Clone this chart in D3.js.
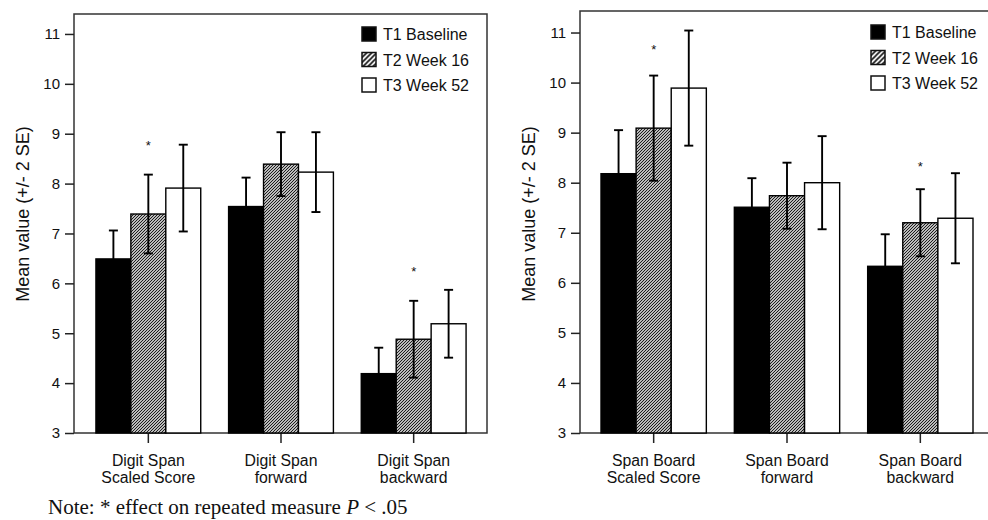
<!DOCTYPE html>
<html>
<head>
<meta charset="utf-8">
<script src="https://cdnjs.cloudflare.com/ajax/libs/d3/7.8.5/d3.min.js"></script>
<style>
  body { margin: 0; background: #fff; }
  svg text { font-family: "Liberation Sans", Arial, sans-serif; fill: #111; }
  .note { font-family: "Liberation Serif", "Times New Roman", serif; }
</style>
</head>
<body>
<div id="chart"></div>
<script>
// series + shared ticks
var series = ["T1 Baseline", "T2 Week 16", "T3 Week 52"];
var yTicks = [3, 4, 5, 6, 7, 8, 9, 10, 11];

// left panel - digit span (means and 2 SE, one row per series)
var digitCategories = ["Digit Span|Scaled Score", "Digit Span|forward", "Digit Span|backward"];
var digitMeans = [
  [6.49, 7.54, 4.19],
  [7.39, 8.39, 4.88],
  [7.91, 8.23, 5.19]
];
var digitErr = [
  [0.57, 0.58, 0.52],
  [0.79, 0.64, 0.77],
  [0.87, 0.80, 0.68]
];
var digitStars = [[0, 8.82], [2, 6.29]];

// right panel - span board
var boardCategories = ["Span Board|Scaled Score", "Span Board|forward", "Span Board|backward"];
var boardMeans = [
  [8.18, 7.51, 6.33],
  [9.09, 7.74, 7.20],
  [9.89, 8.00, 7.29]
];
var boardErr = [
  [0.87, 0.58, 0.64],
  [1.05, 0.66, 0.67],
  [1.15, 0.93, 0.90]
];
var boardStars = [[0, 10.72], [2, 8.39]];

var svgWidth = 988;
var svgHeight = 520;
var baseY = 433;

var svg = d3.select("#chart")
  .append("svg")
  .attr("width", svgWidth)
  .attr("height", svgHeight);

// hatch patterns (fine one for bars, coarser one for legend keys)
var defs = svg.append("defs");
defs.append("pattern")
  .attr("id", "hatch")
  .attr("patternUnits", "userSpaceOnUse")
  .attr("width", 3)
  .attr("height", 3)
  .call(p => p.append("rect").attr("width", 3).attr("height", 3).attr("fill", "#fff"))
  .append("path")
  .attr("d", "M-1,1 l2,-2 M0,3 l3,-3 M2,4 l2,-2")
  .attr("stroke", "#111")
  .attr("stroke-width", 1.1);

defs.append("pattern")
  .attr("id", "hatchKey")
  .attr("patternUnits", "userSpaceOnUse")
  .attr("width", 5)
  .attr("height", 5)
  .call(p => p.append("rect").attr("width", 5).attr("height", 5).attr("fill", "#fff"))
  .append("path")
  .attr("d", "M-1,1 l2,-2 M0,5 l5,-5 M4,6 l2,-2")
  .attr("stroke", "#111")
  .attr("stroke-width", 1.6);

var fills = ["#000", "url(#hatch)", "#fff"];
var keyFills = ["#000", "url(#hatchKey)", "#fff"];

function drawPanel(cfg) {
  var g = svg.append("g");

  var x0 = d3.scaleBand()
    .domain(cfg.categories)
    .range(cfg.xRange)
    .paddingInner(0.21)
    .paddingOuter(0.105);

  var x1 = d3.scaleBand()
    .domain(series)
    .range([0, x0.bandwidth()]);

  var y = d3.scaleLinear()
    .domain([3, cfg.yMax])
    .range([baseY, cfg.boxTop]);

  // frame
  g.append("rect")
    .attr("x", cfg.boxLeft)
    .attr("y", cfg.boxTop)
    .attr("width", cfg.boxRight - cfg.boxLeft)
    .attr("height", baseY - cfg.boxTop)
    .attr("fill", "none")
    .attr("stroke", "#333")
    .attr("stroke-width", 1.5);

  // y axis
  var yAxis = g.append("g")
    .attr("transform", `translate(${cfg.boxLeft}, 0)`)
    .call(d3.axisLeft(y).tickValues(yTicks).tickSize(9).tickPadding(5));
  yAxis.select(".domain").remove();
  yAxis.selectAll("line").attr("stroke", "#222").attr("stroke-width", 1.5);
  yAxis.selectAll("text").attr("font-size", 15).attr("fill", "#111");

  // x axis ticks only, labels drawn below as two lines
  var xAxis = g.append("g")
    .attr("transform", `translate(0, ${baseY})`)
    .call(d3.axisBottom(x0).tickSize(10).tickFormat(""));
  xAxis.select(".domain").remove();
  xAxis.selectAll("line").attr("stroke", "#222").attr("stroke-width", 1.5);

  var labels = g.selectAll("text.cat")
    .data(cfg.categories)
    .enter()
    .append("text")
    .attr("class", "cat")
    .attr("x", d => x0(d) + x0.bandwidth() / 2)
    .attr("y", 466)
    .attr("text-anchor", "middle")
    .attr("font-size", 15.8);
  labels.append("tspan").text(d => d.split("|")[0]);
  labels.append("tspan")
    .attr("x", d => x0(d) + x0.bandwidth() / 2)
    .attr("dy", 16.5)
    .text(d => d.split("|")[1]);

  // bars
  var rows = [];
  cfg.categories.forEach(function(cat, i) {
    series.forEach(function(s, j) {
      rows.push({cat: cat, s: s, j: j, mean: cfg.means[j][i], err: cfg.err[j][i]});
    });
  });

  g.selectAll("rect.bar")
    .data(rows)
    .enter()
    .append("rect")
    .attr("class", "bar")
    .attr("x", d => x0(d.cat) + x1(d.s))
    .attr("y", d => y(d.mean))
    .attr("width", x1.bandwidth())
    .attr("height", d => baseY - y(d.mean))
    .attr("fill", d => fills[d.j])
    .attr("stroke", "#000")
    .attr("stroke-width", 1.4);

  // error bars
  var eb = g.selectAll("g.err")
    .data(rows)
    .enter()
    .append("g")
    .attr("class", "err")
    .attr("stroke", "#000")
    .attr("stroke-width", 1.9);
  var cx = d => x0(d.cat) + x1(d.s) + x1.bandwidth() / 2;
  eb.append("line")
    .attr("x1", cx).attr("x2", cx)
    .attr("y1", d => y(d.mean + d.err))
    .attr("y2", d => y(d.mean - d.err));
  eb.append("line")
    .attr("x1", d => cx(d) - 4.5).attr("x2", d => cx(d) + 4.5)
    .attr("y1", d => y(d.mean + d.err))
    .attr("y2", d => y(d.mean + d.err));
  eb.append("line")
    .attr("x1", d => cx(d) - 4.5).attr("x2", d => cx(d) + 4.5)
    .attr("y1", d => y(d.mean - d.err))
    .attr("y2", d => y(d.mean - d.err));

  // significance stars
  g.selectAll("text.star")
    .data(cfg.stars)
    .enter()
    .append("text")
    .attr("class", "star")
    .attr("x", d => x0(cfg.categories[d[0]]) + x0.bandwidth() / 2)
    .attr("y", d => y(d[1]) + 7.5)
    .attr("text-anchor", "middle")
    .attr("font-size", 13)
    .text("*");

  // y label
  g.append("text")
    .attr("transform", `translate(${cfg.labelX}, 214) rotate(-90)`)
    .attr("text-anchor", "middle")
    .attr("font-size", 18)
    .text("Mean value (+/- 2 SE)");

  // legend
  var legend = g.selectAll("g.key")
    .data(series)
    .enter()
    .append("g")
    .attr("class", "key")
    .attr("transform", (d, i) => `translate(${cfg.legendX}, ${cfg.legendY + i * 25.5})`);
  legend.append("rect")
    .attr("width", 14)
    .attr("height", 14)
    .attr("fill", (d, i) => keyFills[i])
    .attr("stroke", "#111")
    .attr("stroke-width", 1.5);
  legend.append("text")
    .attr("x", 21)
    .attr("y", 13)
    .attr("font-size", 16)
    .text(d => d);
}

drawPanel({
  categories: digitCategories, means: digitMeans, err: digitErr, stars: digitStars,
  xRange: [82, 480], boxLeft: 74, boxRight: 487, boxTop: 14, yMax: 11.4,
  labelX: 29, legendX: 362, legendY: 27
});

drawPanel({
  categories: boardCategories, means: boardMeans, err: boardErr, stars: boardStars,
  xRange: [587, 987], boxLeft: 580, boxRight: 994, boxTop: 11, yMax: 11.43,
  labelX: 535, legendX: 871, legendY: 25
});

// footnote
var note = svg.append("text")
  .attr("class", "note")
  .attr("x", 48)
  .attr("y", 514)
  .attr("font-size", 21);
note.append("tspan").text("Note: * effect on repeated measure ");
note.append("tspan").attr("font-style", "italic").text("P");
note.append("tspan").text(" < .05");
</script>
</body>
</html>
